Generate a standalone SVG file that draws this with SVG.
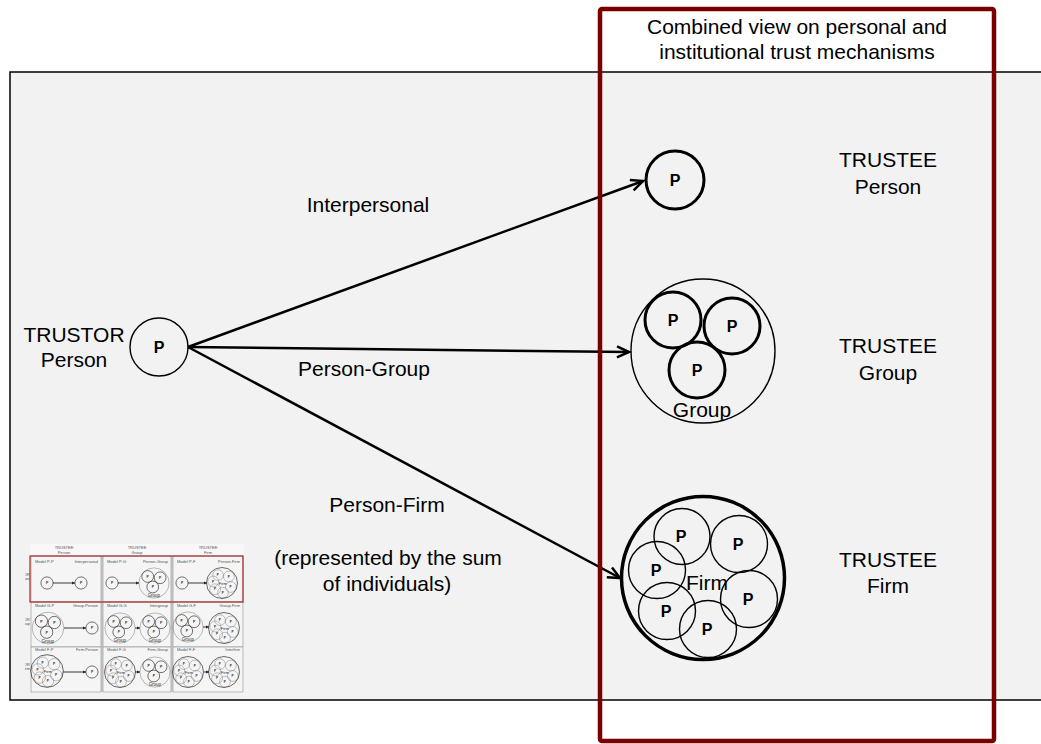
<svg xmlns="http://www.w3.org/2000/svg" width="1041" height="744" viewBox="0 0 1041 744">
  <style>
    text { font-family: "Liberation Sans", Arial, sans-serif; fill: #000; }
    .lbl { font-size: 21px; text-anchor: middle; }
    .p { font-size: 16px; font-weight: bold; text-anchor: middle; }
    .thin { fill: none; stroke: #000; stroke-width: 1.4; }
    .thick { fill: none; stroke: #000; stroke-width: 3; }
    .edge { fill: none; stroke: #000; stroke-width: 2.5; }
    .mini-edge { fill: none; stroke: #000; stroke-width: 0.9; }
    .cell { fill: #f6f6f6; stroke: #8a8a8a; stroke-width: 0.7; }
    .sep { stroke: #b4b4b4; stroke-width: 2; }
    .tt { font-size: 4px; fill: #333; }
    .th { font-size: 4px; fill: #333; text-anchor: middle; }
    .tr { font-size: 4px; fill: #333; text-anchor: end; }
  </style>
  <defs>
    <marker id="open-arrow" viewBox="0 0 14 14" refX="13" refY="7" markerWidth="14" markerHeight="14" markerUnits="userSpaceOnUse" orient="auto" overflow="visible">
      <path d="M1,1.5 L13,7 L1,12.5" fill="none" stroke="#000" stroke-width="2.5"/>
    </marker>
    <marker id="mini-arrow" viewBox="0 0 6 6" refX="6" refY="3" markerWidth="3.5" markerHeight="3.5" markerUnits="userSpaceOnUse" orient="auto">
      <path d="M0,0 L6,3 L0,6 Z" fill="#000"/>
    </marker>
    <clipPath id="thumb-clip">
      <rect x="25" y="540" width="225" height="160"/>
    </clipPath>

    <!-- reusable actor shapes, centred on the origin -->
    <g id="shape-person">
      <circle r="29" class="thick"/>
      <text class="p" y="6">P</text>
    </g>
    <g id="shape-group">
      <circle r="72" class="thin"/>
      <circle cx="-30" cy="-31" r="28" class="thick"/>
      <circle cx="29" cy="-25" r="28" class="thick"/>
      <circle cx="-6" cy="19" r="28" class="thick"/>
      <text class="p" x="-30" y="-25">P</text>
      <text class="p" x="29" y="-19">P</text>
      <text class="p" x="-6" y="25">P</text>
      <text class="lbl" x="-1" y="66">Group</text>
    </g>
    <g id="shape-firm">
      <circle r="81.5" fill="none" stroke="#000" stroke-width="3.5"/>
      <circle cx="-21" cy="-41.5" r="28" class="thin"/>
      <circle cx="36" cy="-34" r="28.5" class="thin"/>
      <circle cx="-46" cy="-8" r="28.5" class="thin"/>
      <circle cx="46" cy="21" r="28.5" class="thin"/>
      <circle cx="-36" cy="33" r="28.5" class="thin"/>
      <circle cx="5" cy="51" r="28.5" class="thin"/>
      <text class="p" x="-22" y="-36">P</text>
      <text class="p" x="35" y="-28">P</text>
      <text class="p" x="-47" y="-2">P</text>
      <text class="p" x="45" y="27">P</text>
      <text class="p" x="-37" y="39">P</text>
      <text class="p" x="4" y="57">P</text>
      <text class="lbl" x="4" y="12">Firm</text>
    </g>
  </defs>

  <!-- background panel -->
  <rect x="0" y="0" width="1041" height="744" fill="#fff"/>
  <rect id="panel" x="10" y="72" width="1040" height="628" fill="#f2f2f2" stroke="#000" stroke-width="1.5"/>

  <!-- trustor -->
  <g id="trustor-person">
    <text class="lbl" x="74" y="342">TRUSTOR</text>
    <text class="lbl" x="74" y="367">Person</text>
    <circle cx="159" cy="347" r="29" class="thin"/>
    <text class="p" x="159" y="353">P</text>
  </g>

  <!-- trustees -->
  <g id="trustee-person">
    <use href="#shape-person" x="675" y="180"/>
    <text class="lbl" x="888" y="167">TRUSTEE</text>
    <text class="lbl" x="888" y="194">Person</text>
  </g>
  <g id="trustee-group">
    <use href="#shape-group" x="703" y="351"/>
    <text class="lbl" x="888" y="353">TRUSTEE</text>
    <text class="lbl" x="888" y="380">Group</text>
  </g>
  <g id="trustee-firm">
    <use href="#shape-firm" x="703" y="578"/>
    <text class="lbl" x="888" y="567">TRUSTEE</text>
    <text class="lbl" x="888" y="593">Firm</text>
  </g>

  <!-- trust relations -->
  <g id="connectors">
    <line class="edge" x1="188" y1="347" x2="643" y2="181" marker-end="url(#open-arrow)"/>
    <line class="edge" x1="188" y1="347" x2="629" y2="352" marker-end="url(#open-arrow)"/>
    <line class="edge" x1="188" y1="347" x2="620" y2="578" marker-end="url(#open-arrow)"/>
  </g>
  <g id="edge-labels">
    <text class="lbl" x="368" y="212">Interpersonal</text>
    <text class="lbl" x="364" y="376">Person-Group</text>
    <text class="lbl" x="387" y="512">Person-Firm</text>
    <text class="lbl" x="388" y="565">(represented by the sum</text>
    <text class="lbl" x="387" y="591">of individuals)</text>
  </g>

  <!-- overview of all nine trustor/trustee models -->
  <g id="overview" clip-path="url(#thumb-clip)" opacity="0.85">
    <rect x="30" y="544" width="214" height="149" fill="#fafafa"/>
    <text class="th" x="64" y="549">TRUSTEE</text>
    <text class="th" x="64" y="554">Person</text>
    <text class="th" x="137" y="549">TRUSTEE</text>
    <text class="th" x="137" y="554">Group</text>
    <text class="th" x="208" y="549">TRUSTEE</text>
    <text class="th" x="208" y="554">Firm</text>

    <text class="tr" x="30" y="576">TRUSTOR</text>
    <text class="tr" x="30" y="580">Person</text>
    <text class="tr" x="30" y="621">TRUSTOR</text>
    <text class="tr" x="30" y="625">Group</text>
    <text class="tr" x="30" y="666">TRUSTOR</text>
    <text class="tr" x="30" y="670">Firm</text>

    <rect class="cell" x="31" y="556" width="70" height="46"/>
    <rect class="cell" x="31" y="602" width="70" height="45"/>
    <rect class="cell" x="31" y="647" width="70" height="45"/>
    <rect class="cell" x="103" y="556" width="68" height="46"/>
    <rect class="cell" x="103" y="602" width="68" height="45"/>
    <rect class="cell" x="103" y="647" width="68" height="45"/>
    <rect class="cell" x="173" y="556" width="70" height="46"/>
    <rect class="cell" x="173" y="602" width="70" height="45"/>
    <rect class="cell" x="173" y="647" width="70" height="45"/>
    <line class="sep" x1="102" y1="556" x2="102" y2="692"/>
    <line class="sep" x1="172" y1="556" x2="172" y2="692"/>

    <!-- row: trustor person -->
    <text class="tt" x="35" y="563">Model P-P</text>
    <text class="tr" x="98" y="563">Interpersonal</text>
    <use href="#shape-person" transform="translate(47 583) scale(0.21)"/>
    <line class="mini-edge" x1="53" y1="583" x2="75" y2="583" marker-end="url(#mini-arrow)"/>
    <use href="#shape-person" transform="translate(81 583) scale(0.21)"/>

    <text class="tt" x="107" y="563">Model P-G</text>
    <text class="tr" x="168" y="563">Person-Group</text>
    <use href="#shape-person" transform="translate(112 583) scale(0.21)"/>
    <line class="mini-edge" x1="118" y1="583" x2="139" y2="583" marker-end="url(#mini-arrow)"/>
    <use href="#shape-group" transform="translate(154 583) scale(0.21)"/>

    <text class="tt" x="177" y="563">Model P-F</text>
    <text class="tr" x="240" y="563">Person-Firm</text>
    <use href="#shape-person" transform="translate(182 583) scale(0.21)"/>
    <line class="mini-edge" x1="188" y1="583" x2="207" y2="583" marker-end="url(#mini-arrow)"/>
    <use href="#shape-firm" transform="translate(222 583) scale(0.19)"/>

    <!-- row: trustor group -->
    <text class="tt" x="35" y="607">Model G-P</text>
    <text class="tr" x="98" y="607">Group-Person</text>
    <use href="#shape-group" transform="translate(48 628) scale(0.22)"/>
    <line class="mini-edge" x1="64" y1="628" x2="86" y2="628" marker-end="url(#mini-arrow)"/>
    <use href="#shape-person" transform="translate(92 628) scale(0.21)"/>

    <text class="tt" x="107" y="607">Model G-G</text>
    <text class="tr" x="168" y="607">Intergroup</text>
    <use href="#shape-group" transform="translate(120 628) scale(0.21)"/>
    <line class="mini-edge" x1="135" y1="628" x2="140" y2="628" marker-end="url(#mini-arrow)"/>
    <use href="#shape-group" transform="translate(155 628) scale(0.21)"/>

    <text class="tt" x="177" y="607">Model G-F</text>
    <text class="tr" x="240" y="607">Group-Firm</text>
    <use href="#shape-group" transform="translate(188 627) scale(0.21)"/>
    <line class="mini-edge" x1="203" y1="627" x2="209" y2="627" marker-end="url(#mini-arrow)"/>
    <use href="#shape-firm" transform="translate(224 628) scale(0.19)"/>

    <!-- row: trustor firm -->
    <text class="tt" x="35" y="651">Model F-P</text>
    <text class="tr" x="98" y="651">Firm-Person</text>
    <use href="#shape-firm" transform="translate(47 671) scale(0.2)"/>
    <line class="mini-edge" x1="63" y1="672" x2="86" y2="672" marker-end="url(#mini-arrow)"/>
    <use href="#shape-person" transform="translate(92 672) scale(0.21)"/>

    <text class="tt" x="107" y="651">Model F-G</text>
    <text class="tr" x="168" y="651">Firm-Group</text>
    <use href="#shape-firm" transform="translate(120 672) scale(0.19)"/>
    <line class="mini-edge" x1="135" y1="672" x2="140" y2="672" marker-end="url(#mini-arrow)"/>
    <use href="#shape-group" transform="translate(155 672) scale(0.21)"/>

    <text class="tt" x="177" y="651">Model F-F</text>
    <text class="tr" x="240" y="651">Interfirm</text>
    <use href="#shape-firm" transform="translate(188 672) scale(0.19)"/>
    <line class="mini-edge" x1="204" y1="672" x2="209" y2="672" marker-end="url(#mini-arrow)"/>
    <use href="#shape-firm" transform="translate(224 672) scale(0.19)"/>

    <rect x="30" y="556" width="213" height="46" fill="none" stroke="#a01818" stroke-width="1.3"/>
  </g>

  <!-- highlighted column: combined view -->
  <g id="combined-view">
    <rect x="600" y="9" width="394" height="732" rx="2" fill="none" stroke="#7a0000" stroke-width="4.5"/>
    <text class="lbl" x="797" y="34">Combined view on personal and</text>
    <text class="lbl" x="797" y="59">institutional trust mechanisms</text>
  </g>
</svg>
